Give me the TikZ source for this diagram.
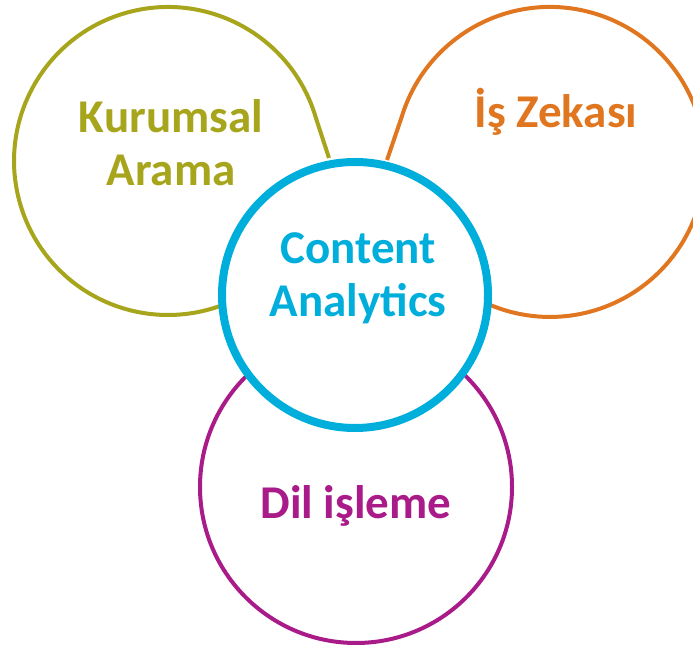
\documentclass[tikz,border=0pt]{standalone}
\usepackage{fontspec}
\setmainfont{Carlito}
\definecolor{olivec}{RGB}{166,165,28}
\definecolor{orangec}{RGB}{224,119,32}
\definecolor{cyanc}{RGB}{0,174,219}
\definecolor{magentac}{RGB}{168,27,136}
\begin{document}
\begin{tikzpicture}[x=1pt,y=1pt,
  outer/.style={line width=4pt},
  lbl/.style={font=\fontsize{47}{53}\selectfont\bfseries, align=center, inner sep=0pt}]
\useasboundingbox (0,0) rectangle (693,645);
\begin{scope}
\clip (0,0) rectangle (693,645);
% magenta circle
\draw[outer, magentac] (356,158) circle[radius=156];
% olive teardrop
\coordinate (oP) at (329,487);
\draw[outer, olivec, line join=round] (oP) -- (316.0,526.7) arc[start angle=16.1, end angle=300, radius=154];
% orange teardrop
\coordinate (rP) at (387,485);
\draw[outer, orangec, line join=round] (rP) -- (401.7,528.1) arc[start angle=163.1, end angle=-120, radius=155];
% central circle
\draw[line width=8pt, cyanc, fill=white] (355,350) circle[radius=133];
\end{scope}
\node[lbl, text=olivec] (kur) at (171,502) {Kurumsal\\Arama};
\node[lbl, text=orangec] (is) at (556,533) {İş Zekası};
\node[lbl, text=cyanc] (ca) at (358,367) {Content\\Analytics};
\node[lbl, text=magentac] (dil) at (356,139) {Dil işleme};
\end{tikzpicture}
\end{document}
